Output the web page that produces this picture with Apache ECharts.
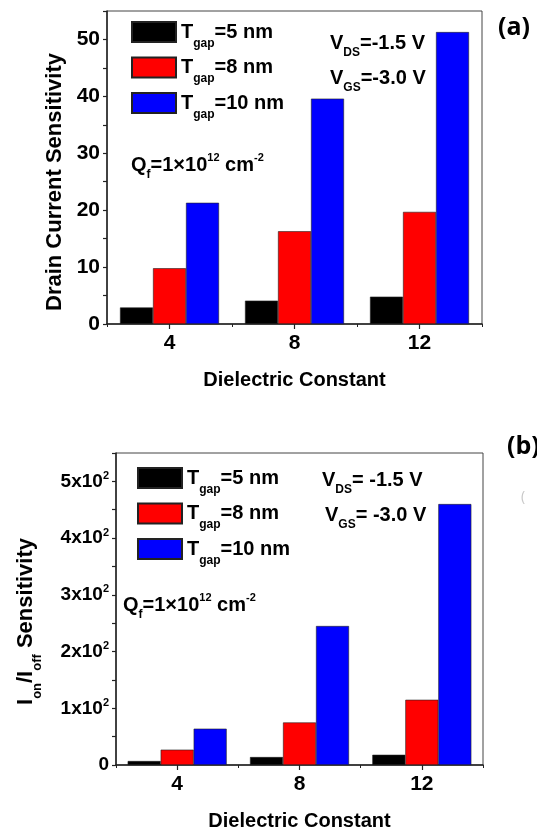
<!DOCTYPE html>
<html><head><meta charset="utf-8">
<script src="https://cdn.jsdelivr.net/npm/echarts@6/dist/echarts.min.js"></script>
<style>html,body{margin:0;padding:0;background:#fff}#c{width:537px;height:834px}</style>
</head><body><div id="c"></div>
<script>
const categories = ['4', '8', '12'];
const seriesNames = ['T_gap=5 nm', 'T_gap=8 nm', 'T_gap=10 nm'];
const legendSuffix = ['=5 nm', '=8 nm', '=10 nm'];
const drainGap5 = [2.9, 4.1, 4.8];
const drainGap8 = [9.8, 16.3, 19.7];
const drainGap10 = [21.3, 39.6, 51.3];
const ratioGap5 = [7, 14, 18];
const ratioGap8 = [27, 75, 115];
const ratioGap10 = [64, 245, 460];
const drainTicks = [0, 10, 20, 30, 40, 50];
const ratioTicks = [0, 100, 200, 300, 400, 500];
const colors = ['#000000', '#ff0000', '#0000ff'];

const FONT = 'Liberation Sans';
const txt = (size, extra) => Object.assign({fontFamily: FONT, fontWeight: 'bold', fontSize: size, color: '#000'}, extra || {});

const axisLineStyle = {color: '#222', width: 1.5};

function xAxes(gi) {
  return [
    {type: 'category', gridIndex: gi, data: categories, position: 'bottom',
      axisLine: {show: true, lineStyle: axisLineStyle},
      axisTick: {show: true, alignWithLabel: true, length: 5, lineStyle: {color: '#222', width: 1.2}},
      axisLabel: txt(21, {margin: 9}),
      name: 'Dielectric Constant', nameLocation: 'middle', nameGap: 46,
      nameTextStyle: txt(20)},
    {type: 'category', gridIndex: gi, data: categories, position: 'bottom',
      axisLine: {show: false},
      axisTick: {show: true, length: 3, lineStyle: {color: '#222', width: 1}},
      axisLabel: {show: false}}
  ];
}

const legendRich = {
  m: txt(20, {lineHeight: 35}),
  s: txt(12, {lineHeight: 12, padding: [23, 0, 0, 0], verticalAlign: 'top'})
};
function legendFormatter(name) {
  const i = seriesNames.indexOf(name);
  return '{m|T}{s|gap}{m|' + legendSuffix[i] + '}';
}

function bars(gi, d5, d8, d10) {
  return [d5, d8, d10].map((d, i) => ({
    type: 'bar', name: seriesNames[i], data: d,
    xAxisIndex: gi * 2, yAxisIndex: gi,
    barWidth: 33, barGap: '0%',
    itemStyle: {color: colors[i], borderColor: '#222', borderWidth: 0.6}
  }));
}

const annRich = {
  m: {fontFamily: FONT, fontWeight: 'bold', fontSize: 20, fill: '#000', lineHeight: 36},
  s: {fontFamily: FONT, fontWeight: 'bold', fontSize: 12, fill: '#000', lineHeight: 12, padding: [22, 0, 0, 0], verticalAlign: 'top'},
  p: {fontFamily: FONT, fontWeight: 'bold', fontSize: 11, fill: '#000', lineHeight: 11, padding: [5, 0, 0, 0], verticalAlign: 'top'}
};
function ann(x, y, text) {
  return {type: 'text', x: x, y: y, z: 100,
    style: {text: text, rich: annRich, align: 'left', verticalAlign: 'middle'}};
}

const option = {
  animation: false,
  backgroundColor: '#fff',
  grid: [
    {left: 107, top: 11, width: 375, height: 313, show: true, borderColor: '#444', borderWidth: 1, backgroundColor: 'transparent'},
    {left: 107, top: 453, width: 376, height: 312, show: true, borderColor: '#444', borderWidth: 1, backgroundColor: 'transparent'}
  ],
  xAxis: xAxes(0).concat(xAxes(1)),
  yAxis: [
    {type: 'value', gridIndex: 0, min: 0, max: 55, interval: 5,
      splitLine: {show: false},
      axisLine: {show: true, lineStyle: axisLineStyle},
      axisTick: {show: true, inside: false, length: 4, lineStyle: {color: '#222', width: 1.2}},
      axisLabel: txt(21, {margin: 7, formatter: v => drainTicks.includes(v) ? String(v) : ''}),
      name: 'Drain Current Sensitivity', nameLocation: 'middle', nameGap: 40,
      nameTextStyle: txt(22, {padding: [0, 29, 0, 0]})},
    {type: 'value', gridIndex: 1, min: 0, max: 550, interval: 50,
      splitLine: {show: false},
      axisLine: {show: true, lineStyle: axisLineStyle},
      axisTick: {show: true, inside: false, length: 4, lineStyle: {color: '#222', width: 1.2}},
      axisLabel: {margin: 7,
        formatter: v => ratioTicks.includes(v) ? (v === 0 ? '{m|0}' : '{m|' + (v / 100) + 'x10}{p|2}') : '',
        rich: {
          m: txt(19, {lineHeight: 24}),
          p: txt(11, {lineHeight: 11, padding: [1, 0, 0, 0], verticalAlign: 'top'})
        }},
      name: '{m|I}{s|on}{m|/I}{s|off}{m| Sensitivity}', nameLocation: 'middle', nameGap: 72,
      nameTextStyle: {padding: [0, 25, 0, 0],
        rich: {
          m: txt(22, {lineHeight: 36}),
          s: txt(13, {lineHeight: 13, padding: [23, 0, 0, 0], verticalAlign: 'top'})
        }}}
  ],
  legend: [
    {orient: 'vertical', left: 131, top: 14.5, padding: 0, itemGap: 0.5,
      itemWidth: 44, itemHeight: 20, icon: 'rect', data: seriesNames,
      formatter: legendFormatter, textStyle: {rich: legendRich}, selectedMode: false},
    {orient: 'vertical', left: 137, top: 460.5, padding: 0, itemGap: 0.5,
      itemWidth: 44, itemHeight: 20, icon: 'rect', data: seriesNames,
      formatter: legendFormatter, textStyle: {rich: legendRich}, selectedMode: false}
  ],
  series: bars(0, drainGap5, drainGap8, drainGap10).concat(bars(1, ratioGap5, ratioGap8, ratioGap10)),
  graphic: [
    ann(330, 43, '{m|V}{s|DS}{m|=-1.5 V}'),
    ann(330, 78, '{m|V}{s|GS}{m|=-3.0 V}'),
    ann(131, 165, '{m|Q}{s|f}{m|=1×10}{p|12}{m| cm}{p|-2}'),
    ann(322, 480, '{m|V}{s|DS}{m|= -1.5 V}'),
    ann(325, 515, '{m|V}{s|GS}{m|= -3.0 V}'),
    ann(123, 605, '{m|Q}{s|f}{m|=1×10}{p|12}{m| cm}{p|-2}'),
    {type: 'text', x: 498, y: 28, style: {text: '(a)', font: 'bold 25px "Open Sans"', fill: '#000', verticalAlign: 'middle'}},
    {type: 'text', x: 507, y: 447, style: {text: '(b)', font: 'bold 25px "Open Sans"', fill: '#000', verticalAlign: 'middle'}},
    {type: 'text', x: 521, y: 497, style: {text: '(', font: '14px "Open Sans"', fill: '#c8c8c8', verticalAlign: 'middle'}}
  ]
};

const chart = echarts.init(document.getElementById('c'), null, {renderer: 'canvas'});
chart.setOption(option);
</script>
</body></html>
